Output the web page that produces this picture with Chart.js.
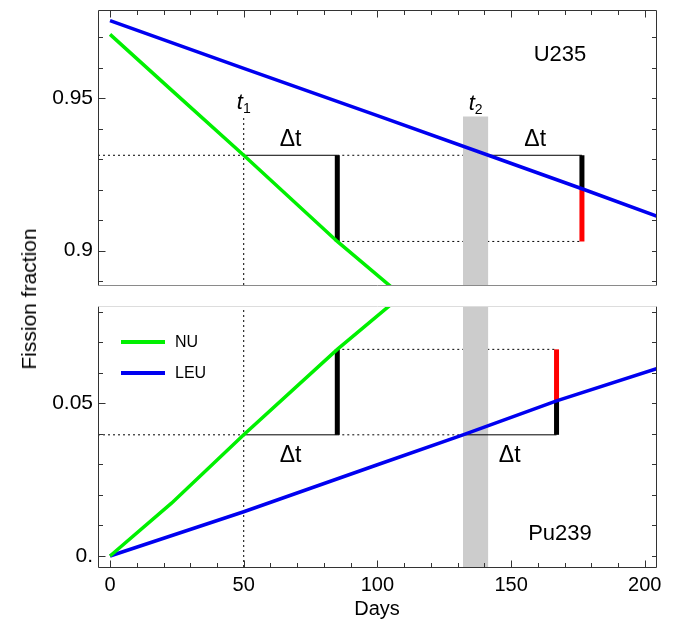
<!DOCTYPE html>
<html>
<head>
<meta charset="utf-8">
<title>Fission fraction vs days</title>
<script src="https://cdn.jsdelivr.net/npm/chart.js@4.4.1/dist/chart.umd.min.js"></script>
<style>
  html, body { margin: 0; padding: 0; background: #fff; }
  #wrap { position: relative; width: 673px; height: 621px; overflow: hidden; }
  #topChart { position: absolute; left: 0; top: 0; }
  #bottomChart { position: absolute; left: 0; top: 290px; }
  #ylabel {
    position: absolute; left: 29px; top: 299px;
    transform: translate(-50%, -50%) rotate(-90deg);
    font: 21px "Liberation Sans", Arial, Helvetica, sans-serif;
    white-space: nowrap; color: #000;
  }
</style>
</head>
<body>
<div id="wrap">
  <canvas id="topChart" width="673" height="290"></canvas>
  <canvas id="bottomChart" width="673" height="331"></canvas>
  <div id="ylabel">Fission fraction</div>
</div>
<script>
/* ---------- data ---------- */

// NU (natural uranium) core
const nuDays = [0, 23, 50, 85, 110];
const nuU235 = [0.9710, 0.9527, 0.9313, 0.9030, 0.8845];
const nuPu239 = [0.0000, 0.0173, 0.0397, 0.0677, 0.0860];

// LEU core
const leuU235Days = [0, 50, 100, 141.5, 176.5, 206];
const leuU235 = [0.9755, 0.9598, 0.9443, 0.9313, 0.9203, 0.9108];
const leuPu239Days = [0, 50, 100, 132, 167, 206];
const leuPu239 = [0.0000, 0.0145, 0.0299, 0.0397, 0.0508, 0.0618];

// markers
const t1 = 50;
const dt = 35;
const t2U235 = 141.5;
const t2Pu239 = 132;
const bandDays = [132, 141.5];
const u235Levels = [0.9313, 0.9030];   // NU at t1 and t1 + dt
const pu239Levels = [0.0397, 0.0677];
const leuU235AtEnd = 0.9203;           // LEU at t2 + dt
const leuPu239AtEnd = 0.0508;
const markTop = 0.944;                 // top of t1 line and band in the U235 panel

// axes
const xRange = [-4.5, 204.2];
const yTopRange = [0.8887, 0.979];
const yBotRange = [-0.0036, 0.0819];
const xLabels = [0, 50, 100, 150, 200];
const xMinor = [10, 20, 30, 40, 60, 70, 80, 90, 110, 120, 130, 140, 160, 170, 180, 190];
const yTopLabels = [0.9, 0.95];
const yTopMinor = [0.89, 0.91, 0.92, 0.93, 0.94, 0.96, 0.97];
const yBotLabels = [0, 0.05];
const yBotMinor = [0.01, 0.02, 0.03, 0.04, 0.06, 0.07, 0.08];

/* ---------- styling ---------- */

const FONT = '"Liberation Sans", Arial, Helvetica, sans-serif';
const GREEN = '#00f000';
const BLUE = '#0000f0';
const RED = '#ff0000';
const BLACK = '#000000';
const BAND = '#cccccc';
const DOTS = [2, 3];

Chart.defaults.font.family = FONT;
Chart.defaults.color = '#000';

function xy(xs, ys) {
    return xs.map((x, i) => ({ x: x, y: ys[i] }));
}

function seriesSet(label, xs, ys, color) {
    return {
        label: label, data: xy(xs, ys),
        borderColor: color, borderWidth: 3.5,
        pointRadius: 0, tension: 0, fill: false, order: 1
    };
}

function segSet(xs, ys, color, width, order, dash) {
    return {
        data: xy(xs, ys),
        borderColor: color, borderWidth: width, borderCapStyle: 'butt',
        borderDash: dash || [], pointRadius: 0, fill: false, order: order
    };
}

function bandSet(top) {
    return {
        data: xy(bandDays, [top, top]),
        borderColor: 'rgba(0,0,0,0)', borderWidth: 1,
        backgroundColor: BAND, fill: 'start', pointRadius: 0, order: 4
    };
}

function text(ctx, s, x, y, size, align, baseline, style) {
    ctx.font = (style ? style + ' ' : '') + size + 'px ' + FONT;
    ctx.textAlign = align;
    ctx.textBaseline = baseline;
    ctx.fillStyle = '#000';
    ctx.fillText(s, x, y);
}

function subLabel(ctx, main, sub, cx, baseY) {
    ctx.font = 'italic 22px ' + FONT;
    const w1 = ctx.measureText(main).width;
    ctx.font = '14px ' + FONT;
    const w2 = ctx.measureText(sub).width;
    const x0 = cx - (w1 + w2) / 2;
    text(ctx, main, x0, baseY, 22, 'left', 'alphabetic', 'italic');
    text(ctx, sub, x0 + w1, baseY + 4, 14, 'left', 'alphabetic');
}

// frame with inward ticks (Mathematica look)
const framePlugin = {
    id: 'frame',
    afterDraw(chart, args, o) {
        const ctx = chart.ctx;
        const a = chart.chartArea;
        const xs = chart.scales.x;
        const ys = chart.scales.y;
        const top = o.panel === 'top';
        const px = v => Math.round(v) + 0.5;
        const line = (x1, y1, x2, y2, c) => {
            ctx.strokeStyle = c;
            ctx.beginPath();
            ctx.moveTo(x1, y1);
            ctx.lineTo(x2, y2);
            ctx.stroke();
        };
        const L = px(a.left), R = px(a.right), T = px(a.top), B = px(a.bottom);
        ctx.save();
        ctx.lineWidth = 1;
        line(L, T, L, B, '#333');
        line(R, T, R, B, '#333');
        line(L, T, R, T, top ? '#333' : '#dddddd');
        line(L, B, R, B, top ? '#8a8a8a' : '#333');

        const yMaj = top ? yTopLabels : yBotLabels;
        const yMin = top ? yTopMinor : yBotMinor;
        yMaj.concat(yMin).forEach(v => {
            const len = yMaj.includes(v) ? 7 : 4.5;
            const y = px(ys.getPixelForValue(v));
            line(L, y, L + len, y, '#333');
            line(R, y, R - 4.5, y, '#333');
        });
        const edge = top ? T : B;
        const dir = top ? 1 : -1;
        xLabels.concat(xMinor).forEach(v => {
            const len = xLabels.includes(v) ? 7 : 4.5;
            const x = px(xs.getPixelForValue(v));
            line(x, edge, x, edge + dir * len, '#333');
        });
        ctx.restore();
    }
};

const topNotes = {
    id: 'topNotes',
    afterDraw(chart) {
        const ctx = chart.ctx;
        const a = chart.chartArea;
        const x = chart.scales.x;
        const y = chart.scales.y;
        ctx.save();
        text(ctx, 'U235', a.right - 96, a.top + 45, 22, 'center', 'middle');
        const mt = y.getPixelForValue(markTop);
        subLabel(ctx, 't', '1', x.getPixelForValue(t1), mt - 8);
        subLabel(ctx, 't', '2', x.getPixelForValue((bandDays[0] + bandDays[1]) / 2), mt - 7);
        const ly = y.getPixelForValue(u235Levels[0]);
        text(ctx, 'Δt', x.getPixelForValue(t1 + dt / 2), ly - 9, 23, 'center', 'alphabetic');
        text(ctx, 'Δt', x.getPixelForValue(t2U235 + dt / 2), ly - 9, 23, 'center', 'alphabetic');
        ctx.restore();
    }
};

const bottomNotes = {
    id: 'bottomNotes',
    afterDraw(chart) {
        const ctx = chart.ctx;
        const a = chart.chartArea;
        const x = chart.scales.x;
        const y = chart.scales.y;
        ctx.save();
        text(ctx, 'Pu239', a.right - 96, a.bottom - 33, 22, 'center', 'middle');
        const ly = y.getPixelForValue(pu239Levels[0]);
        text(ctx, 'Δt', x.getPixelForValue(t1 + dt / 2), ly + 27, 23, 'center', 'alphabetic');
        text(ctx, 'Δt', x.getPixelForValue(t2Pu239 + dt / 2), ly + 27, 23, 'center', 'alphabetic');

        // legend
        const items = [['NU', GREEN], ['LEU', BLUE]];
        items.forEach((it, i) => {
            const ry = a.top + 36 + i * 31;
            ctx.strokeStyle = it[1];
            ctx.lineWidth = 4;
            ctx.beginPath();
            ctx.moveTo(a.left + 23, ry);
            ctx.lineTo(a.left + 67, ry);
            ctx.stroke();
            text(ctx, it[0], a.left + 77, ry + 1, 16, 'left', 'middle');
        });
        ctx.restore();
    }
};

function yAxis(range, labels, fmt) {
    return {
        type: 'linear', position: 'left',
        min: range[0], max: range[1],
        grid: { display: false, drawTicks: false },
        border: { display: false },
        ticks: { padding: 5, font: { size: 21 }, color: '#000', callback: fmt },
        afterBuildTicks: s => { s.ticks = labels.map(v => ({ value: v })); },
        afterFit: s => {
            s.width = 98;
            s.paddingTop = 0;
            s.paddingBottom = 0;
        }
    };
}

/* ---------- U235 panel ---------- */

new Chart(document.getElementById('topChart'), {
    type: 'line',
    data: {
        datasets: [
            seriesSet('NU', nuDays, nuU235, GREEN),
            seriesSet('LEU', leuU235Days, leuU235, BLUE),
            segSet([t1 + dt, t1 + dt], u235Levels, BLACK, 5, 2),
            segSet([t2U235 + dt, t2U235 + dt], [u235Levels[0], leuU235AtEnd], BLACK, 5, 2),
            segSet([t2U235 + dt, t2U235 + dt], [leuU235AtEnd, u235Levels[1]], RED, 5, 2),
            segSet([t1, t1 + dt], [u235Levels[0], u235Levels[0]], BLACK, 1, 3),
            segSet([t2U235, t2U235 + dt], [u235Levels[0], u235Levels[0]], BLACK, 1, 3),
            bandSet(markTop),
            segSet([xRange[0], t1], [u235Levels[0], u235Levels[0]], BLACK, 1, 5, DOTS),
            segSet([t1 + dt, t2U235], [u235Levels[0], u235Levels[0]], BLACK, 1, 5, DOTS),
            segSet([t1 + dt, t2U235 + dt], [u235Levels[1], u235Levels[1]], BLACK, 1, 5, DOTS),
            segSet([t1, t1], [yTopRange[0], markTop], BLACK, 1, 5, DOTS)
        ]
    },
    options: {
        responsive: false,
        animation: false,
        events: [],
        layout: { padding: { top: 10, right: 17, bottom: 5, left: 0 } },
        plugins: {
            legend: { display: false },
            tooltip: { enabled: false },
            frame: { panel: 'top' }
        },
        scales: {
            x: { type: 'linear', min: xRange[0], max: xRange[1], display: false },
            y: yAxis(yTopRange, yTopLabels, v => String(v))
        }
    },
    plugins: [framePlugin, topNotes]
});

/* ---------- Pu239 panel ---------- */

new Chart(document.getElementById('bottomChart'), {
    type: 'line',
    data: {
        datasets: [
            seriesSet('NU', nuDays, nuPu239, GREEN),
            seriesSet('LEU', leuPu239Days, leuPu239, BLUE),
            segSet([t1 + dt, t1 + dt], pu239Levels, BLACK, 5, 2),
            segSet([t2Pu239 + dt, t2Pu239 + dt], [pu239Levels[0], leuPu239AtEnd], BLACK, 5, 2),
            segSet([t2Pu239 + dt, t2Pu239 + dt], [leuPu239AtEnd, pu239Levels[1]], RED, 5, 2),
            segSet([t1, t1 + dt], [pu239Levels[0], pu239Levels[0]], BLACK, 1, 3),
            segSet([t2Pu239, t2Pu239 + dt], [pu239Levels[0], pu239Levels[0]], BLACK, 1, 3),
            bandSet(yBotRange[1]),
            segSet([xRange[0], t1], [pu239Levels[0], pu239Levels[0]], BLACK, 1, 5, DOTS),
            segSet([t1 + dt, t2Pu239], [pu239Levels[0], pu239Levels[0]], BLACK, 1, 5, DOTS),
            segSet([t1 + dt, t2Pu239 + dt], [pu239Levels[1], pu239Levels[1]], BLACK, 1, 5, DOTS),
            segSet([t1, t1], yBotRange, BLACK, 1, 5, DOTS)
        ]
    },
    options: {
        responsive: false,
        animation: false,
        events: [],
        layout: { padding: { top: 16, right: 17, bottom: 0, left: 0 } },
        plugins: {
            legend: { display: false },
            tooltip: { enabled: false },
            frame: { panel: 'bottom' }
        },
        scales: {
            x: {
                type: 'linear', position: 'bottom',
                min: xRange[0], max: xRange[1],
                grid: { display: false, drawTicks: false },
                border: { display: false },
                ticks: { padding: 6, font: { size: 20 }, color: '#000', maxRotation: 0 },
                afterBuildTicks: s => { s.ticks = xLabels.map(v => ({ value: v })); },
                afterFit: s => {
                    s.height = 54;
                    s.paddingLeft = 0;
                    s.paddingRight = 0;
                },
                title: {
                    display: true, text: 'Days', color: '#000',
                    font: { size: 20 }, padding: { top: 0, bottom: 0 }
                }
            },
            y: yAxis(yBotRange, yBotLabels, v => (v === 0 ? '0.' : String(v)))
        }
    },
    plugins: [framePlugin, bottomNotes]
});
</script>
</body>
</html>
